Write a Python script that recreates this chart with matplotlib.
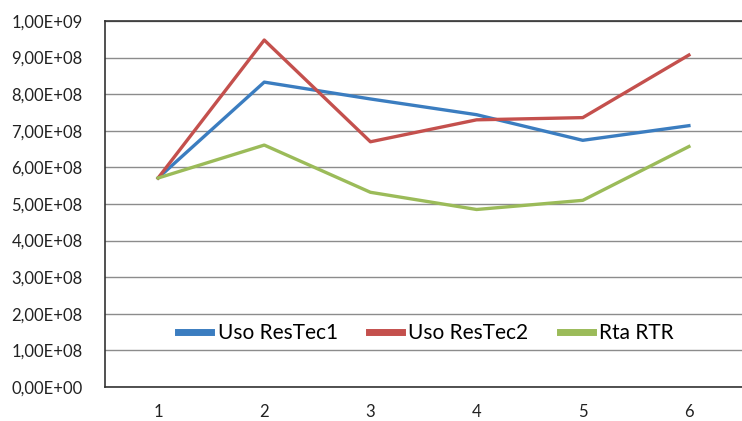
import matplotlib
matplotlib.use("Agg")
import matplotlib.pyplot as plt
from matplotlib.ticker import FuncFormatter, MultipleLocator

categories = [1, 2, 3, 4, 5, 6]
uso_restec1 = [5.71e8, 8.33e8, 7.87e8, 7.44e8, 6.74e8, 7.14e8]
uso_restec2 = [5.71e8, 9.48e8, 6.70e8, 7.30e8, 7.36e8, 9.07e8]
rta_rtr = [5.71e8, 6.61e8, 5.32e8, 4.85e8, 5.10e8, 6.57e8]
series_names = ["Uso ResTec1", "Uso ResTec2", "Rta RTR"]

plt.rcParams['font.family'] = ['Lato', 'DejaVu Sans']

fig = plt.figure(figsize=(7.42, 4.21), dpi=100)
ax = fig.add_axes([105/742, 1 - 387/421, 1 - 105/742, (387 - 21)/421])

colors = ["#3B7DC0", "#C4504D", "#9BBB59"]
for vals, name, c in zip([uso_restec1, uso_restec2, rta_rtr], series_names, colors):
    ax.plot(categories, vals, color=c, lw=2.4, label=name, solid_joinstyle='round')

ax.set_xlim(0.5, 6.5)
ax.set_ylim(0, 1e9)
ax.yaxis.set_major_locator(MultipleLocator(1e8))
ax.set_xticks(categories)
ax.set_xticklabels([str(c) for c in categories])

def fmt(v, pos):
    if v == 0:
        return "0,00E+00"
    exp = int(f"{v:.2e}".split("e")[1])
    mant = v / 10**exp
    return f"{mant:.2f}".replace(".", ",") + f"E+{exp:02d}"

ax.yaxis.set_major_formatter(FuncFormatter(fmt))
ax.grid(axis='y', color='#8C8C8C', lw=1.0)
ax.set_axisbelow(True)
ax.tick_params(axis='both', length=0, labelsize=12, colors='#222222')
ax.tick_params(axis='y', pad=16)
ax.tick_params(axis='x', pad=12)
for s in ['left', 'bottom', 'top']:
    ax.spines[s].set_color('#333333')
    ax.spines[s].set_linewidth(1.2)
ax.spines['right'].set_visible(False)

ax.legend(loc='center', bbox_to_anchor=(426/742, 1 - 333/421), bbox_transform=fig.transFigure,
          ncol=3, frameon=False, fontsize=15, handlelength=1.6, handletextpad=0.3,
          columnspacing=1.5)
for l in ax.get_legend().get_lines():
    l.set_linewidth(5)

fig.savefig("out.png", dpi=100)
